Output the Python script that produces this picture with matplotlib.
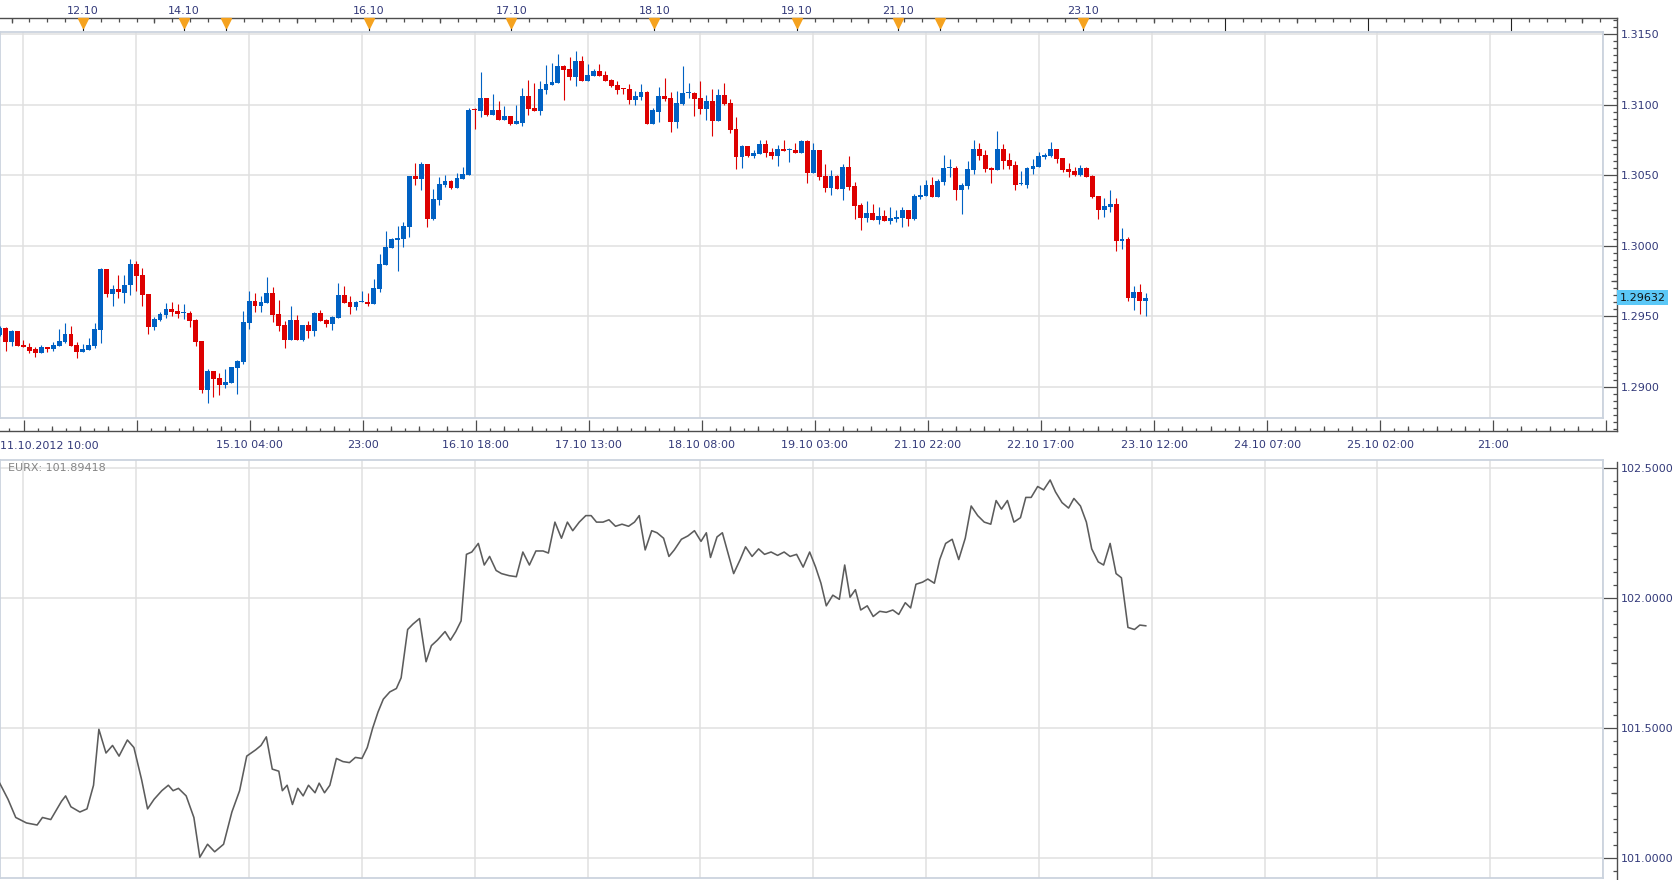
import matplotlib
matplotlib.use("Agg")
import matplotlib.pyplot as plt
from matplotlib.ticker import FixedLocator, MultipleLocator, NullFormatter
import pandas as pd

# ---------------- data ----------------
opens = [1.29370, 1.29417, 1.29315, 1.29393, 1.29298, 1.29284, 1.29265, 1.29242, 1.29284, 1.29270,
         1.29291, 1.29320, 1.29377, 1.29298, 1.29249, 1.29263, 1.29291, 1.29405, 1.29832, 1.29661,
         1.29690, 1.29668, 1.29718, 1.29867, 1.29789, 1.29661, 1.29426, 1.29476, 1.29512, 1.29554,
         1.29540, 1.29526, 1.29526, 1.29476, 1.29327, 1.28979, 1.29114, 1.29064, 1.29014, 1.29028,
         1.29135, 1.29178, 1.29455, 1.29611, 1.29569, 1.29597, 1.29668, 1.29519, 1.29441, 1.29334,
         1.29476, 1.29334, 1.29441, 1.29398, 1.29526, 1.29476, 1.29448, 1.29490, 1.29654, 1.29604,
         1.29562, 1.29604, 1.29602, 1.29587, 1.29694, 1.29865, 1.29986, 1.30043, 1.30050, 1.30135,
         1.30498, 1.30476, 1.30583, 1.30192, 1.30327, 1.30434, 1.30462, 1.30412, 1.30476, 1.30505,
         1.30967, 1.30953, 1.31045, 1.30924, 1.30960, 1.30889, 1.30917, 1.30867, 1.30874, 1.31059,
         1.30974, 1.30953, 1.31102, 1.31137, 1.31152, 1.31273, 1.31251, 1.31194, 1.31308, 1.31166,
         1.31201, 1.31237, 1.31209, 1.31173, 1.31137, 1.31116, 1.31109, 1.31031, 1.31052, 1.31088,
         1.30867, 1.30952, 1.31060, 1.31045, 1.30881, 1.31002, 1.31081, 1.31081, 1.31045, 1.30967,
         1.31024, 1.30888, 1.31067, 1.31010, 1.30831, 1.30631, 1.30710, 1.30638, 1.30652, 1.30724,
         1.30667, 1.30638, 1.30688, 1.30681, 1.30681, 1.30660, 1.30745, 1.30517, 1.30681, 1.30495,
         1.30410, 1.30495, 1.30402, 1.30560, 1.30424, 1.30288, 1.30195, 1.30231, 1.30181, 1.30210,
         1.30174, 1.30188, 1.30195, 1.30252, 1.30188, 1.30345, 1.30352, 1.30431, 1.30345, 1.30452,
         1.30552, 1.30552, 1.30396, 1.30424, 1.30538, 1.30686, 1.30644, 1.30552, 1.30538, 1.30686,
         1.30609, 1.30573, 1.30439, 1.30432, 1.30545, 1.30559, 1.30630, 1.30637, 1.30686, 1.30623,
         1.30545, 1.30531, 1.30502, 1.30552, 1.30495, 1.30354, 1.30255, 1.30276, 1.30297, 1.30035,
         1.30049, 1.29628, 1.29674, 1.29610]
highs = [1.29430, 1.29426, 1.29403, 1.29398, 1.29334, 1.29313, 1.29284, 1.29298, 1.29284, 1.29320,
         1.29412, 1.29450, 1.29434, 1.29320, 1.29306, 1.29348, 1.29455, 1.29839, 1.29832, 1.29725,
         1.29789, 1.29789, 1.29903, 1.29889, 1.29839, 1.29661, 1.29498, 1.29533, 1.29597, 1.29604,
         1.29590, 1.29590, 1.29540, 1.29483, 1.29327, 1.29128, 1.29114, 1.29099, 1.29128, 1.29142,
         1.29192, 1.29540, 1.29682, 1.29668, 1.29640, 1.29775, 1.29704, 1.29618, 1.29469, 1.29569,
         1.29512, 1.29441, 1.29469, 1.29533, 1.29547, 1.29483, 1.29505, 1.29739, 1.29711, 1.29640,
         1.29611, 1.29682, 1.29666, 1.29765, 1.29943, 1.30107, 1.30057, 1.30142, 1.30171, 1.30498,
         1.30590, 1.30597, 1.30583, 1.30405, 1.30490, 1.30505, 1.30469, 1.30519, 1.30562, 1.30974,
         1.30974, 1.31230, 1.31045, 1.31073, 1.31024, 1.30988, 1.30917, 1.30995, 1.31116, 1.31173,
         1.31152, 1.31166, 1.31280, 1.31294, 1.31358, 1.31280, 1.31337, 1.31379, 1.31344, 1.31287,
         1.31251, 1.31287, 1.31237, 1.31180, 1.31166, 1.31116, 1.31145, 1.31095, 1.31147, 1.31095,
         1.30974, 1.31124, 1.31188, 1.31088, 1.31095, 1.31274, 1.31152, 1.31088, 1.31167, 1.31067,
         1.31110, 1.31110, 1.31152, 1.31038, 1.30910, 1.30717, 1.30710, 1.30681, 1.30752, 1.30752,
         1.30695, 1.30717, 1.30752, 1.30695, 1.30731, 1.30752, 1.30752, 1.30731, 1.30681, 1.30581,
         1.30538, 1.30502, 1.30581, 1.30638, 1.30452, 1.30302, 1.30317, 1.30295, 1.30274, 1.30252,
         1.30274, 1.30252, 1.30274, 1.30252, 1.30367, 1.30431, 1.30467, 1.30488, 1.30474, 1.30645,
         1.30617, 1.30567, 1.30446, 1.30601, 1.30750, 1.30729, 1.30679, 1.30559, 1.30814, 1.30722,
         1.30658, 1.30601, 1.30531, 1.30559, 1.30616, 1.30665, 1.30658, 1.30736, 1.30686, 1.30623,
         1.30587, 1.30559, 1.30573, 1.30559, 1.30502, 1.30354, 1.30340, 1.30396, 1.30340, 1.30127,
         1.30063, 1.29716, 1.29731, 1.29667]
lows = [1.29360, 1.29256, 1.29291, 1.29291, 1.29280, 1.29242, 1.29213, 1.29237, 1.29249, 1.29256,
        1.29291, 1.29313, 1.29291, 1.29206, 1.29249, 1.29263, 1.29277, 1.29313, 1.29633, 1.29576,
        1.29626, 1.29597, 1.29654, 1.29682, 1.29576, 1.29377, 1.29405, 1.29469, 1.29490, 1.29505,
        1.29490, 1.29483, 1.29426, 1.29291, 1.28957, 1.28886, 1.28929, 1.28943, 1.28993, 1.29028,
        1.28950, 1.29163, 1.29412, 1.29533, 1.29533, 1.29597, 1.29462, 1.29398, 1.29277, 1.29334,
        1.29334, 1.29327, 1.29348, 1.29362, 1.29469, 1.29426, 1.29405, 1.29490, 1.29597, 1.29519,
        1.29547, 1.29604, 1.29569, 1.29587, 1.29675, 1.29865, 1.29986, 1.29822, 1.29993, 1.30064,
        1.30434, 1.30398, 1.30135, 1.30185, 1.30291, 1.30419, 1.30405, 1.30412, 1.30476, 1.30505,
        1.30825, 1.30910, 1.30917, 1.30924, 1.30889, 1.30889, 1.30853, 1.30867, 1.30846, 1.30924,
        1.30953, 1.30931, 1.31073, 1.31137, 1.31152, 1.31031, 1.31173, 1.31130, 1.31166, 1.31166,
        1.31201, 1.31201, 1.31166, 1.31123, 1.31073, 1.31073, 1.31002, 1.30995, 1.31031, 1.30867,
        1.30867, 1.30881, 1.31024, 1.30810, 1.30838, 1.30995, 1.31045, 1.30917, 1.30938, 1.30895,
        1.30781, 1.30888, 1.30995, 1.30802, 1.30545, 1.30552, 1.30631, 1.30624, 1.30652, 1.30631,
        1.30617, 1.30567, 1.30674, 1.30595, 1.30660, 1.30660, 1.30445, 1.30517, 1.30467, 1.30381,
        1.30360, 1.30402, 1.30324, 1.30395, 1.30188, 1.30110, 1.30167, 1.30181, 1.30152, 1.30174,
        1.30152, 1.30167, 1.30131, 1.30138, 1.30181, 1.30331, 1.30352, 1.30345, 1.30345, 1.30431,
        1.30488, 1.30324, 1.30226, 1.30403, 1.30509, 1.30609, 1.30524, 1.30446, 1.30538, 1.30545,
        1.30545, 1.30396, 1.30432, 1.30410, 1.30509, 1.30559, 1.30616, 1.30630, 1.30587, 1.30524,
        1.30488, 1.30495, 1.30495, 1.30488, 1.30340, 1.30191, 1.30205, 1.30240, 1.29964, 1.29978,
        1.29610, 1.29547, 1.29518, 1.29504]
closes = [1.29417, 1.29315, 1.29393, 1.29291, 1.29280, 1.29256, 1.29242, 1.29284, 1.29270, 1.29298,
          1.29327, 1.29377, 1.29291, 1.29249, 1.29270, 1.29298, 1.29412, 1.29832, 1.29661, 1.29690,
          1.29671, 1.29725, 1.29867, 1.29782, 1.29654, 1.29426, 1.29483, 1.29519, 1.29554, 1.29533,
          1.29519, 1.29533, 1.29469, 1.29320, 1.28979, 1.29114, 1.29057, 1.29014, 1.29035, 1.29142,
          1.29185, 1.29462, 1.29611, 1.29569, 1.29604, 1.29668, 1.29512, 1.29434, 1.29334, 1.29476,
          1.29334, 1.29441, 1.29398, 1.29526, 1.29469, 1.29448, 1.29498, 1.29654, 1.29597, 1.29562,
          1.29604, 1.29611, 1.29587, 1.29701, 1.29872, 1.29993, 1.30050, 1.30057, 1.30142, 1.30498,
          1.30476, 1.30583, 1.30192, 1.30334, 1.30441, 1.30462, 1.30412, 1.30483, 1.30512, 1.30960,
          1.30960, 1.31045, 1.30924, 1.30960, 1.30889, 1.30917, 1.30867, 1.30882, 1.31059, 1.30967,
          1.30953, 1.31109, 1.31145, 1.31159, 1.31273, 1.31244, 1.31194, 1.31308, 1.31166, 1.31209,
          1.31237, 1.31201, 1.31166, 1.31130, 1.31102, 1.31109, 1.31031, 1.31059, 1.31088, 1.30867,
          1.30960, 1.31060, 1.31038, 1.30881, 1.31010, 1.31081, 1.31088, 1.31038, 1.30967, 1.31024,
          1.30888, 1.31067, 1.31002, 1.30824, 1.30631, 1.30710, 1.30638, 1.30660, 1.30724, 1.30660,
          1.30638, 1.30688, 1.30674, 1.30688, 1.30660, 1.30745, 1.30517, 1.30681, 1.30488, 1.30410,
          1.30495, 1.30402, 1.30560, 1.30417, 1.30281, 1.30195, 1.30231, 1.30181, 1.30210, 1.30174,
          1.30195, 1.30202, 1.30252, 1.30188, 1.30352, 1.30360, 1.30431, 1.30345, 1.30460, 1.30552,
          1.30560, 1.30395, 1.30432, 1.30545, 1.30686, 1.30637, 1.30545, 1.30538, 1.30686, 1.30601,
          1.30566, 1.30432, 1.30446, 1.30552, 1.30566, 1.30637, 1.30644, 1.30686, 1.30616, 1.30538,
          1.30524, 1.30502, 1.30552, 1.30488, 1.30347, 1.30255, 1.30283, 1.30297, 1.30035, 1.30049,
          1.29628, 1.29674, 1.29610, 1.29632]

# EURX index: hour position (candle index) and value
eurx_t = [0.0, 1.4, 2.7, 4.5, 6.3, 7.2, 8.6, 10.4, 11.1, 12.0, 13.5, 14.7, 15.8, 16.7, 17.9, 19.0,
          20.1, 21.5, 22.6, 23.9, 24.9, 26.0, 27.3, 28.4, 29.2, 30.1, 31.4, 32.7, 33.7, 35.0, 36.2,
          37.7, 39.1, 40.4, 41.6, 43.1, 44.0, 44.9, 45.9, 47.0, 47.6, 48.4, 49.3, 50.2, 51.1, 52.0,
          53.1, 53.8, 54.7, 55.6, 56.7, 57.8, 58.9, 59.9, 61.0, 61.9, 62.8, 63.7, 64.6, 65.7, 66.8,
          67.6, 68.7, 69.6, 70.7, 71.8, 72.7, 73.7, 75.0, 75.9, 76.8, 77.7, 78.6, 79.5, 80.6, 81.6,
          82.5, 83.6, 84.5, 85.8, 87.0, 88.1, 89.2, 90.3, 91.5, 92.4, 93.5, 94.6, 95.6, 96.5, 97.6,
          98.7, 99.6, 100.5, 101.6, 102.6, 103.7, 104.8, 105.9, 106.9, 107.7, 108.7, 109.8, 110.7,
          111.8, 112.7, 113.6, 114.8, 115.9, 117.0, 118.1, 119.0, 119.7, 120.8, 121.7, 122.7, 123.6,
          124.7, 125.6, 126.7, 127.8, 128.8, 129.9, 131.0, 132.1, 133.1, 134.2, 135.3, 136.4, 137.4,
          138.3, 139.2, 140.3, 141.4, 142.3, 143.2, 144.1, 145.0, 146.1, 147.1, 148.2, 149.3, 150.4,
          151.4, 152.5, 153.4, 154.3, 155.4, 156.3, 157.4, 158.3, 159.3, 160.4, 161.5, 162.6, 163.6,
          164.7, 165.8, 166.9, 167.8, 168.7, 169.7, 170.8, 171.9, 172.8, 173.7, 174.8, 175.8, 176.9,
          177.8, 178.9, 180.0, 180.9, 182.0, 183.0, 183.9, 185.0, 185.9, 187.0, 188.0, 188.9, 190.0,
          191.1, 192.0, 193.0]
eurx_v = [101.289, 101.227, 101.157, 101.136, 101.128, 101.157, 101.149, 101.219, 101.240, 101.198,
          101.178, 101.190, 101.281, 101.496, 101.405, 101.434, 101.393, 101.455, 101.426, 101.302,
          101.190, 101.227, 101.260, 101.281, 101.260, 101.269, 101.240, 101.157, 101.004, 101.054,
          101.025, 101.054, 101.178, 101.260, 101.393, 101.417, 101.434, 101.467, 101.343, 101.335,
          101.260, 101.281, 101.207, 101.269, 101.240, 101.281, 101.252, 101.289, 101.252, 101.281,
          101.384, 101.372, 101.368, 101.388, 101.384, 101.426, 101.500, 101.562, 101.612, 101.640,
          101.653, 101.694, 101.880, 101.901, 101.922, 101.756, 101.818, 101.839, 101.872, 101.839,
          101.872, 101.913, 102.169, 102.178, 102.211, 102.128, 102.161, 102.107, 102.095, 102.087,
          102.083, 102.178, 102.128, 102.182, 102.182, 102.174, 102.293, 102.231, 102.293, 102.260,
          102.293, 102.318, 102.318, 102.293, 102.293, 102.302, 102.277, 102.285, 102.277, 102.293,
          102.318, 102.186, 102.260, 102.252, 102.231, 102.161, 102.186, 102.227, 102.240, 102.260,
          102.219, 102.252, 102.157, 102.236, 102.252, 102.169, 102.095, 102.149, 102.198, 102.161,
          102.190, 102.169, 102.178, 102.165, 102.178, 102.161, 102.169, 102.120, 102.178, 102.120,
          102.058, 101.971, 102.012, 101.996, 102.128, 102.004, 102.033, 101.955, 101.971, 101.930,
          101.950, 101.946, 101.955, 101.938, 101.983, 101.963, 102.054, 102.062, 102.074, 102.058,
          102.149, 102.211, 102.227, 102.149, 102.231, 102.355, 102.318, 102.293, 102.285, 102.376,
          102.343, 102.376, 102.293, 102.310, 102.388, 102.388, 102.430, 102.417, 102.455, 102.409,
          102.368, 102.347, 102.384, 102.355, 102.293, 102.190, 102.140, 102.128, 102.211, 102.095,
          102.079, 101.888, 101.880, 101.897, 101.89418]

sessions = [("2012-10-11 10:00", 31), ("2012-10-14 17:00", 120), ("2012-10-21 17:00", 43)]
last_price = 1.29632
eurx_label = "EURX: 101.89418"

price_ticks = [1.2900, 1.2950, 1.3000, 1.3050, 1.3100, 1.3150]
eurx_ticks = [101.0, 101.5, 102.0, 102.5]
grid_positions = [4, 23, 42, 61, 80, 99, 118, 137, 156, 175, 194, 213, 232, 251, 270]
time_labels = ["", "", "15.10 04:00", "23:00", "16.10 18:00", "17.10 13:00", "18.10 08:00",
               "19.10 03:00", "21.10 22:00", "22.10 17:00", "23.10 12:00", "24.10 07:00",
               "25.10 02:00", "21:00", ""]
first_label = "11.10.2012 10:00"

# ---------------- style ----------------
BLUE = "#0061C3"
RED = "#DD0000"
GRID = "#E0E0E0"
BORDER = "#CBD3DE"
AXIS = "#4d4d4d"
LABEL = "#333A7A"
ORANGE = "#F5A21E"
plt.rcParams["font.family"] = ["DejaVu Sans"]

W, H = 1674.0, 880.0
fig = plt.figure(figsize=(16.74, 8.8), dpi=100)
fig.patch.set_facecolor("white")


def rect(x0, y0, x1, y1):
    return [x0 / W, 1 - y1 / H, (x1 - x0) / W, (y1 - y0) / H]


# timeline
times = []
for start, n in sessions:
    times += list(pd.date_range(start, periods=n, freq="h"))
times += list(pd.date_range(times[-1] + pd.Timedelta(hours=1), periods=90, freq="h"))
n_data = len(closes)
idx = list(range(n_data))

X0, X1_IN, X1_OUT = 0.05, 269.45, 271.85
day_starts = [i for i in range(1, len(times)) if times[i].date() != times[i - 1].date() and i <= 271]
three_h = [i for i in range(0, 272) if times[i].hour % 3 == 0 and i not in day_starts]

# ---------------- top panel ----------------
ax1o = fig.add_axes(rect(0, 18.5, 1617.3, 431), zorder=1)
ax1 = fig.add_axes(rect(0, 31.7, 1603, 418), zorder=2)

ax1.set_xlim(X0, X1_IN)
ax1.set_ylim(1.287780, 1.315184)
ax1.set_xticks(grid_positions)
ax1.set_yticks(price_ticks)
ax1.tick_params(length=0, labelbottom=False, labelleft=False)
ax1.grid(True, color=GRID, lw=1.1)
ax1.set_axisbelow(True)
for s in ax1.spines.values():
    s.set_color(BORDER)
    s.set_linewidth(1.3)

colors = [BLUE if c >= o else RED for o, c in zip(opens, closes)]
body_lo = [min(o, c) for o, c in zip(opens, closes)]
body_h = [max(abs(c - o), 0.00007) for o, c in zip(opens, closes)]
ax1.vlines(idx, lows, highs, colors=colors, lw=0.8, zorder=3)
ax1.bar(idx, body_h, bottom=body_lo, width=0.82, color=colors, linewidth=0, zorder=4)

# outer frame of top panel
ax1o.set_facecolor("none")
ax1o.set_xlim(X0, X1_OUT)
ax1o.set_ylim(1.286857, 1.316121)
ax1o.spines["left"].set_visible(False)
for k in ("top", "right", "bottom"):
    ax1o.spines[k].set_color(AXIS)
    ax1o.spines[k].set_linewidth(1.0)
ax1o.yaxis.tick_right()
ax1o.set_yticks(price_ticks)
ax1o.set_yticklabels([f"{p:.4f}" for p in price_ticks])
ax1o.yaxis.set_minor_locator(MultipleLocator(0.0005))
ax1o.tick_params(axis="y", which="major", direction="in", length=10, width=0.9,
                 color=AXIS, pad=2.7, labelsize=8, labelcolor=LABEL)
ax1o.tick_params(axis="y", which="minor", direction="in", length=3, width=0.9, color=AXIS)
ytr = ax1o.get_yaxis_transform()
mid_p = [p + 0.0025 for p in price_ticks if p + 0.0025 < 1.316]
ax1o.hlines(mid_p, 1 - 6.5 / 1617.3, 1, transform=ytr, colors=AXIS, lw=0.9, clip_on=False)

# bottom time axis
ax1o.set_xticks(grid_positions)
ax1o.set_xticklabels(time_labels)
minor_bot = [g + k * 19 / 8 for g in [-15] + grid_positions for k in range(1, 8)]
minor_bot = [m for m in minor_bot if X0 < m < X1_OUT]
ax1o.xaxis.set_minor_locator(FixedLocator(minor_bot))
ax1o.tick_params(axis="x", which="major", direction="in", length=8, width=0.9, color=AXIS,
                 pad=6.8, labelsize=8, labelcolor=LABEL)
ax1o.tick_params(axis="x", which="minor", direction="in", length=2, width=0.9, color=AXIS)
xtr = ax1o.get_xaxis_transform()
med_bot = [g + k * 19 / 8 for g in [-15] + grid_positions for k in (2, 4, 6)]
med_bot = [m for m in med_bot if X0 < m < X1_OUT]
ax1o.vlines(med_bot, 0, 4.5 / 412.5, transform=xtr, colors=AXIS, lw=0.9)
ax1o.text(0, -7.0 / 412.5 * 0 - 0.0, first_label, transform=ax1o.transAxes, ha="left",
          va="top", fontsize=8, color=LABEL)
ax1o.texts[-1].set_position((0.0, -10.0 / 412.5))

# top date axis
axt = ax1o.twiny()
axt.set_xlim(X0, X1_OUT)
for s in axt.spines.values():
    s.set_visible(False)
axt.set_xticks(day_starts)
labelled = []
last = -100
for d in day_starts:
    if d < n_data and d - last > 10:
        labelled.append(f"{times[d].day:02d}.{times[d].month:02d}")
        last = d
    else:
        labelled.append("")
axt.set_xticklabels(labelled)
axt.xaxis.set_minor_locator(FixedLocator(three_h))
axt.tick_params(axis="x", which="major", direction="in", length=9.2, width=0.8, color="#222222",
                pad=1.8, labelsize=8, labelcolor=LABEL)
axt.tick_params(axis="x", which="minor", direction="in", length=2.8, width=0.9, color=AXIS)
mid_top = [i for i in three_h if times[i].hour == 12]
axt.vlines(mid_top, 1 - 5 / 412.5, 1, transform=axt.get_xaxis_transform(), colors=AXIS, lw=0.9)
tri = [d for d in day_starts if d < n_data]
axt.plot(tri, [1 - 4.8 / 412.5] * len(tri), transform=axt.get_xaxis_transform(), ls="none",
         marker="v", ms=7.5, color=ORANGE, mec=ORANGE, clip_on=False, zorder=5)

# current price box
ax1o.text(1 + 2.3 / 1617.3, last_price, f"{last_price:.5f}", transform=ytr, ha="left",
          va="center", fontsize=8, color="#111111",
          bbox=dict(boxstyle="square,pad=0.22", fc="#5BC8F7", ec="none"))

# ---------------- bottom panel ----------------
ax2o = fig.add_axes(rect(0, 461.7, 1617.3, 880), zorder=1)
ax2 = fig.add_axes(rect(0, 460, 1603, 878), zorder=2)

ax2.set_xlim(X0, X1_IN)
ax2.set_ylim(100.9242, 102.5319)
ax2.set_xticks(grid_positions)
ax2.set_yticks(eurx_ticks)
ax2.tick_params(length=0, labelbottom=False, labelleft=False)
ax2.grid(True, color=GRID, lw=1.1)
ax2.set_axisbelow(True)
for s in ax2.spines.values():
    s.set_color(BORDER)
    s.set_linewidth(1.3)
ax2.plot(eurx_t, eurx_v, color="#5c5c5c", lw=1.15, zorder=3)
ax2.text(8.5 / 1603, 1 - 8.0 / 418, eurx_label, transform=ax2.transAxes, ha="left",
         va="center", fontsize=8, color="#858585")

ax2o.set_facecolor("none")
ax2o.set_xlim(X0, X1_OUT)
ax2o.set_ylim(100.9165, 102.5254)
for k in ("top", "left", "bottom"):
    ax2o.spines[k].set_visible(False)
ax2o.spines["right"].set_color(AXIS)
ax2o.spines["right"].set_linewidth(1.0)
ax2o.set_xticks([])
ax2o.yaxis.tick_right()
ax2o.set_yticks(eurx_ticks)
ax2o.set_yticklabels([f"{v:.4f}" for v in eurx_ticks])
ax2o.yaxis.set_minor_locator(MultipleLocator(0.05))
ax2o.tick_params(axis="y", which="major", direction="in", length=10, width=0.9,
                 color=AXIS, pad=2.7, labelsize=8, labelcolor=LABEL)
ax2o.tick_params(axis="y", which="minor", direction="in", length=3, width=0.9, color=AXIS)
mid_e = [v + 0.25 for v in eurx_ticks[:-1]]
ax2o.hlines(mid_e, 1 - 6.5 / 1617.3, 1, transform=ax2o.get_yaxis_transform(), colors=AXIS, lw=0.9)

fig.savefig("out.png", dpi=100, facecolor="white")
